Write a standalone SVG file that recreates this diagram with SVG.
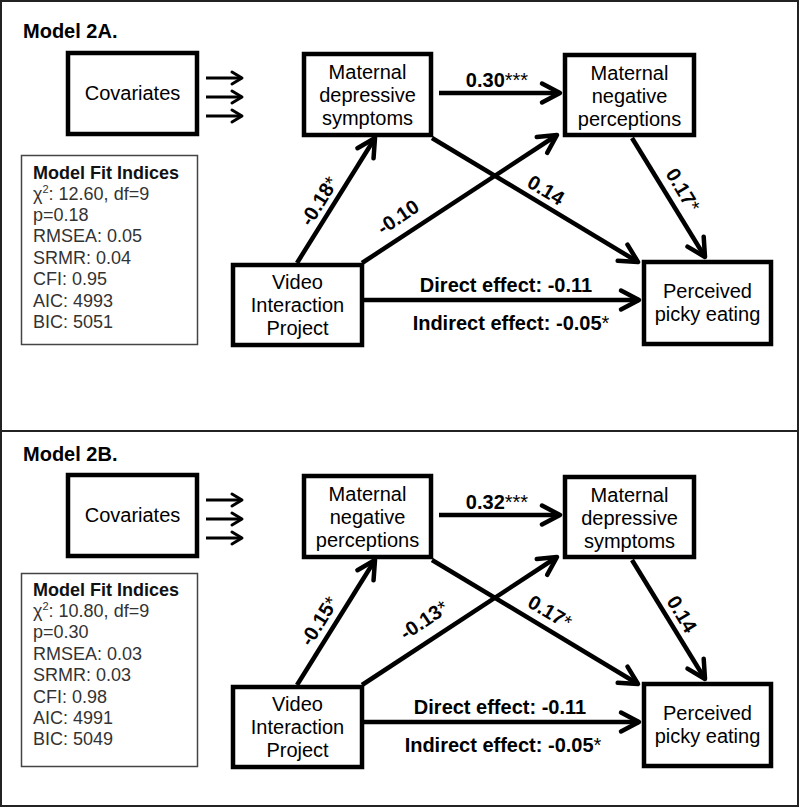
<svg xmlns="http://www.w3.org/2000/svg" width="800" height="807" viewBox="0 0 800 807">
<style>
text{font-family:"Liberation Sans",Arial,sans-serif;fill:#000}
.frame{fill:#fff;stroke:#222;stroke-width:2}
.box{fill:#fff;stroke:#000;stroke-width:4.5}
.fit{fill:#fff;stroke:#444;stroke-width:1.5}
.nl{font-size:20px;text-anchor:middle}
.title{font-size:20px;font-weight:bold}
.lab{font-size:20px;font-weight:bold;text-anchor:middle}
.st{font-weight:normal}
.fh{font-size:18px;font-weight:bold;fill:#111}
.ft{font-size:18px;fill:#333}
.edge{stroke:#000;stroke-width:4.5;fill:none;marker-end:url(#ah)}
.cov{stroke:#000;stroke-width:3;fill:none;marker-end:url(#ahs)}
</style>
<defs>
<marker id="ah" markerUnits="userSpaceOnUse" viewBox="-24 -14 28 28" markerWidth="28" markerHeight="28" refX="0" refY="0" orient="auto">
<path d="M-18,-9.5 L0,0 L-18,9.5" fill="none" stroke="#000" stroke-width="4.5" stroke-linecap="round" stroke-linejoin="round"/>
</marker>
<marker id="ahs" markerUnits="userSpaceOnUse" viewBox="-14 -9 18 18" markerWidth="18" markerHeight="18" refX="0" refY="0" orient="auto">
<path d="M-10,-6 L0,0 L-10,6" fill="none" stroke="#000" stroke-width="3" stroke-linecap="round" stroke-linejoin="round"/>
</marker>
</defs>
<rect width="800" height="807" fill="#fff"/>
<rect class="frame" x="1" y="1" width="797" height="430"/>
<rect class="frame" x="1" y="431" width="797" height="375"/>

<!-- Panel A -->
<text class="title" x="23" y="38">Model 2A.</text>
<g id="connectors-a">
<line class="cov" x1="206" y1="78" x2="242" y2="78"/>
<line class="cov" x1="206" y1="97" x2="242" y2="97"/>
<line class="cov" x1="206" y1="116" x2="242" y2="116"/>
<line class="edge" x1="439" y1="93" x2="560" y2="93"/>
<line class="edge" x1="297" y1="263" x2="375" y2="138"/>
<line class="edge" x1="362" y1="263" x2="557" y2="135"/>
<line class="edge" x1="432" y1="138" x2="638" y2="262"/>
<line class="edge" x1="632" y1="138" x2="705" y2="257"/>
<line class="edge" x1="364" y1="300" x2="639" y2="300"/>
<text class="lab" transform="translate(497,87)">0.30<tspan class="st">***</tspan></text>
<text class="lab" transform="translate(319,201) rotate(-58)" y="7">-0.18<tspan class="st">*</tspan></text>
<text class="lab" transform="translate(398,217) rotate(-34)" y="7">-0.10</text>
<text class="lab" transform="translate(546,190) rotate(31)" y="7">0.14</text>
<text class="lab" transform="translate(683,190) rotate(59)" y="7">0.17<tspan class="st">*</tspan></text>
<text class="lab" x="506" y="292">Direct effect: -0.11</text>
<text class="lab" x="511" y="330">Indirect effect: -0.05<tspan class="st">*</tspan></text>
</g>
<g id="covariates-a">
<rect class="box" x="68" y="53" width="129" height="81"/>
<text class="nl" x="132.5" y="100">Covariates</text>
</g>
<g id="mds-a">
<rect class="box" x="304" y="54" width="127" height="81"/>
<text class="nl" x="367.5" y="79">Maternal</text>
<text class="nl" x="367.5" y="102">depressive</text>
<text class="nl" x="367.5" y="125">symptoms</text>
</g>
<g id="mnp-a">
<rect class="box" x="565" y="55" width="129" height="80"/>
<text class="nl" x="629.5" y="80">Maternal</text>
<text class="nl" x="629.5" y="103">negative</text>
<text class="nl" x="629.5" y="126">perceptions</text>
</g>
<g id="vip-a">
<rect class="box" x="233" y="265" width="129" height="80"/>
<text class="nl" x="297.5" y="289">Video</text>
<text class="nl" x="297.5" y="312">Interaction</text>
<text class="nl" x="297.5" y="335">Project</text>
</g>
<g id="ppe-a">
<rect class="box" x="644" y="262" width="127" height="82"/>
<text class="nl" x="707.5" y="298">Perceived</text>
<text class="nl" x="707.5" y="321">picky eating</text>
</g>
<g id="fit-a">
<rect class="fit" x="21.5" y="155.5" width="176" height="189"/>
<text class="fh" x="33" y="179">Model Fit Indices</text>
<text class="ft" x="33" y="200">χ<tspan font-size="11" dy="-7">2</tspan><tspan dy="7">: 12.60, df=9</tspan></text>
<text class="ft" x="33" y="221">p=0.18</text>
<text class="ft" x="33" y="242">RMSEA: 0.05</text>
<text class="ft" x="33" y="264">SRMR: 0.04</text>
<text class="ft" x="33" y="285">CFI: 0.95</text>
<text class="ft" x="33" y="307">AIC: 4993</text>
<text class="ft" x="33" y="328">BIC: 5051</text>
</g>

<!-- Panel B -->
<text class="title" x="23" y="461">Model 2B.</text>
<g id="connectors-b">
<line class="cov" x1="206" y1="500" x2="242" y2="500"/>
<line class="cov" x1="206" y1="519" x2="242" y2="519"/>
<line class="cov" x1="206" y1="538" x2="242" y2="538"/>
<line class="edge" x1="439" y1="515" x2="560" y2="515"/>
<line class="edge" x1="297" y1="685" x2="375" y2="560"/>
<line class="edge" x1="362" y1="685" x2="557" y2="557"/>
<line class="edge" x1="432" y1="560" x2="638" y2="684"/>
<line class="edge" x1="632" y1="560" x2="705" y2="679"/>
<line class="edge" x1="364" y1="722" x2="639" y2="722"/>
<text class="lab" transform="translate(497,509)">0.32<tspan class="st">***</tspan></text>
<text class="lab" transform="translate(319,621) rotate(-58)" y="7">-0.15<tspan class="st">*</tspan></text>
<text class="lab" transform="translate(424,620) rotate(-34)" y="7">-0.13<tspan class="st">*</tspan></text>
<text class="lab" transform="translate(550,612) rotate(31)" y="7">0.17<tspan class="st">*</tspan></text>
<text class="lab" transform="translate(682,614) rotate(59)" y="7">0.14</text>
<text class="lab" x="500" y="714">Direct effect: -0.11</text>
<text class="lab" x="503" y="752">Indirect effect: -0.05<tspan class="st">*</tspan></text>
</g>
<g id="covariates-b">
<rect class="box" x="68" y="475" width="129" height="81"/>
<text class="nl" x="132.5" y="522">Covariates</text>
</g>
<g id="mnp-b">
<rect class="box" x="304" y="476" width="127" height="81"/>
<text class="nl" x="367.5" y="501">Maternal</text>
<text class="nl" x="367.5" y="524">negative</text>
<text class="nl" x="367.5" y="547">perceptions</text>
</g>
<g id="mds-b">
<rect class="box" x="565" y="477" width="129" height="80"/>
<text class="nl" x="629.5" y="502">Maternal</text>
<text class="nl" x="629.5" y="525">depressive</text>
<text class="nl" x="629.5" y="548">symptoms</text>
</g>
<g id="vip-b">
<rect class="box" x="233" y="687" width="129" height="80"/>
<text class="nl" x="297.5" y="711">Video</text>
<text class="nl" x="297.5" y="734">Interaction</text>
<text class="nl" x="297.5" y="757">Project</text>
</g>
<g id="ppe-b">
<rect class="box" x="644" y="684" width="127" height="82"/>
<text class="nl" x="707.5" y="720">Perceived</text>
<text class="nl" x="707.5" y="743">picky eating</text>
</g>
<g id="fit-b">
<rect class="fit" x="21.5" y="573.5" width="176" height="193"/>
<text class="fh" x="33" y="596">Model Fit Indices</text>
<text class="ft" x="33" y="617">χ<tspan font-size="11" dy="-7">2</tspan><tspan dy="7">: 10.80, df=9</tspan></text>
<text class="ft" x="33" y="638">p=0.30</text>
<text class="ft" x="33" y="660">RMSEA: 0.03</text>
<text class="ft" x="33" y="681">SRMR: 0.03</text>
<text class="ft" x="33" y="703">CFI: 0.98</text>
<text class="ft" x="33" y="724">AIC: 4991</text>
<text class="ft" x="33" y="745">BIC: 5049</text>
</g>
</svg>
